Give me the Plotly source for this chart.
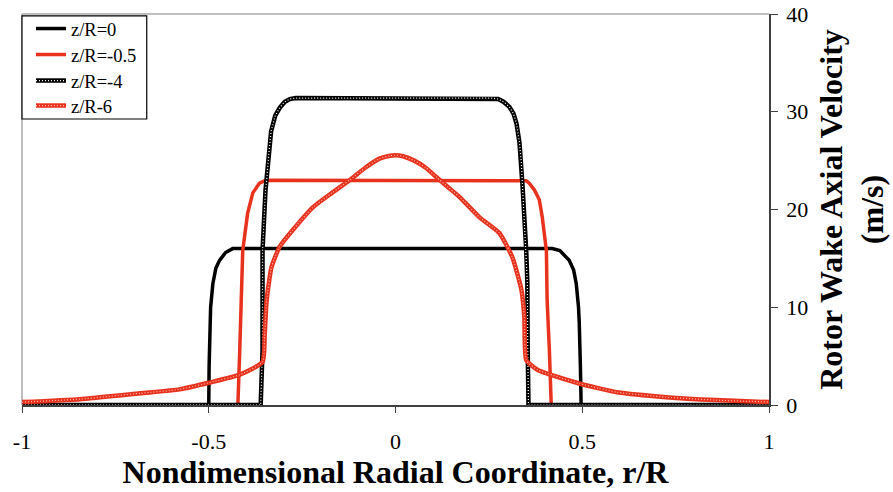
import plotly.graph_objects as go

# ---- data ----
x_z0 = [-1, -0.5, -0.499, -0.497, -0.495, -0.489, -0.481, -0.471, -0.455, -0.436,
        0.42, 0.44, 0.455, 0.465, 0.477, 0.484, 0.49, 0.492, 0.495, 0.497, 1]
y_z0 = [0, 0, 4, 8.4, 10, 12.4, 14, 14.8, 15.6, 16.0,
        16.0, 15.8, 15.2, 14.8, 13.8, 12.4, 10, 8.4, 4, 0, 0]

x_z05 = [-1, -0.422, -0.417, -0.409, -0.396, -0.382, -0.364, -0.35, -0.337,
         0.34, 0.35, 0.358, 0.372, 0.385, 0.393, 0.404, 0.406, 0.412, 0.417, 1]
y_z05 = [0, 0, 5.6, 15.8, 19.6, 21.7, 22.7, 22.95, 23.0,
         23.0, 22.95, 22.7, 22.0, 21.0, 19.2, 15.8, 10.7, 5.6, 0, 0]

x_z4 = [-1, -0.361, -0.356, -0.356, -0.348, -0.345, -0.34, -0.333, -0.322, -0.31,
        -0.297, -0.283, -0.267,
        0.259, 0.275, 0.29, 0.305, 0.316, 0.324, 0.332, 0.337, 0.34, 0.35, 0.353,
        0.354, 0.356, 1]
y_z4 = [0, 0, 5.6, 15.8, 22.0, 23.0, 25.4, 28.0, 29.6, 30.4,
        31.0, 31.3, 31.4,
        31.4, 31.3, 31.0, 30.5, 29.8, 28.8, 26.8, 24.7, 22.5, 15.8, 12.5,
        5.6, 0, 0]

x_z6 = [-1, -0.845, -0.684, -0.578, -0.497, -0.417, -0.356, -0.35, -0.345, -0.332,
        -0.31, -0.275, -0.222, -0.17, -0.123, -0.08, -0.043, -0.015, 0, 0.02, 0.05,
        0.08, 0.11, 0.14, 0.171, 0.225, 0.278,
        0.313, 0.337, 0.345, 0.35, 0.38, 0.492, 0.545, 0.594, 0.725, 0.858, 1]
y_z6 = [0.3, 0.6, 1.2, 1.6, 2.3, 3.1, 4.4, 7.4, 10.7, 14.1,
        16.2, 17.9, 20.2, 21.7, 23.0, 24.3, 25.2, 25.5, 25.55, 25.45, 25.0,
        24.3, 23.3, 22.3, 21.3, 19.2, 17.6,
        15.1, 11.8, 9.0, 4.6, 3.6, 2.2, 1.7, 1.3, 0.8, 0.5, 0.3]

names = ["z/R=0", "z/R=-0.5", "z/R=-4", "z/R-6"]
x_ticks = [-1, -0.5, 0, 0.5, 1]
x_ticktext = ["-1", "-0.5", "0", "0.5", "1"]
y_ticks = [0, 10, 20, 30, 40]

BLACK = "#000000"
RED = "#e8321e"
FONT = "Liberation Serif"
LEG_FONT = 18.5

fig = go.Figure()
fig.add_trace(go.Scatter(x=x_z0, y=y_z0, mode="lines", name=names[0], legend="legend",
                         line=dict(color=BLACK, width=3.5)))
fig.add_trace(go.Scatter(x=x_z05, y=y_z05, mode="lines", name=names[1], legend="legend2",
                         line=dict(color=RED, width=3.5)))
fig.add_trace(go.Scatter(x=x_z4, y=y_z4, mode="lines", name=names[2], legend="legend3",
                         line=dict(color=BLACK, width=4.5)))
fig.add_trace(go.Scatter(x=x_z4, y=y_z4, mode="lines", name=" ", legend="legend5",
                         hoverinfo="skip",
                         line=dict(color="#ffffff", width=1.2, dash="1px,2px")))
fig.add_trace(go.Scatter(x=x_z6, y=y_z6, mode="lines", name=names[3], legend="legend4",
                         line=dict(color=RED, width=4.5, shape="spline", smoothing=0.5)))
fig.add_trace(go.Scatter(x=x_z6, y=y_z6, mode="lines", name=" ", legend="legend6",
                         hoverinfo="skip",
                         line=dict(color="#f7c0b5", width=1.2, dash="1px,2px",
                                   shape="spline", smoothing=0.5)))

# legend row centres in pixels -> paper y of each one-entry legend
PLOT_TOP, PLOT_H, ENTRY_OFF = 14, 391, 18
row_px = [28, 54, 80, 105]
row_y = [1 - (c - ENTRY_OFF - PLOT_TOP) / PLOT_H for c in row_px]


def leg(yv):
    return dict(x=0.012, y=yv, xanchor="left", yanchor="top",
                borderwidth=0, bgcolor="rgba(0,0,0,0)",
                font=dict(family=FONT, size=LEG_FONT), tracegroupgap=0)


fig.update_layout(
    width=893, height=492,
    margin=dict(l=22, r=124, t=14, b=87, autoexpand=False),
    paper_bgcolor="white", plot_bgcolor="white",
    font=dict(family=FONT, color="black", size=22),
    showlegend=True,
    legend=leg(row_y[0]), legend2=leg(row_y[1]), legend3=leg(row_y[2]),
    legend4=leg(row_y[3]), legend5=leg(row_y[2]), legend6=leg(row_y[3]),
    xaxis=dict(range=[-1, 1], tickvals=x_ticks, ticktext=x_ticktext, automargin=False,
               showgrid=False, zeroline=False, showline=True, linecolor="#404040",
               linewidth=1.5, ticks="outside", ticklen=6, tickcolor="#404040",
               ticklabelstandoff=10,
               tickfont=dict(family=FONT, size=22),
               title=dict(text="<b>Nondimensional Radial Coordinate, r/R</b>",
                          font=dict(family=FONT, size=32), standoff=6)),
    yaxis=dict(range=[0, 40], tickvals=y_ticks, side="right", automargin=False,
               showgrid=False, zeroline=False, showline=True, linecolor="#404040",
               linewidth=1.5, ticks="outside", ticklen=7, tickcolor="#404040",
               ticklabelstandoff=4,
               tickfont=dict(family=FONT, size=22),
               title=dict(text="<b>Rotor Wake Axial Velocity<br>(m/s)</b>",
                          font=dict(family=FONT, size=32), standoff=12)),
    shapes=[
        dict(type="line", xref="x domain", yref="y domain", x0=0, x1=1, y0=1, y1=1,
             line=dict(color="#a8a8a8", width=1.5), layer="below"),
        dict(type="line", xref="x domain", yref="y domain", x0=0, x1=0, y0=0, y1=1,
             line=dict(color="#a8a8a8", width=1.5), layer="below"),
        # legend frame
        dict(type="rect", xref="paper", yref="paper", x0=0.0, x1=0.167,
             y0=0.7315, y1=0.995, line=dict(color="black", width=1.2),
             fillcolor="white", layer="below"),
    ],
)

fig.write_html("out.html")
